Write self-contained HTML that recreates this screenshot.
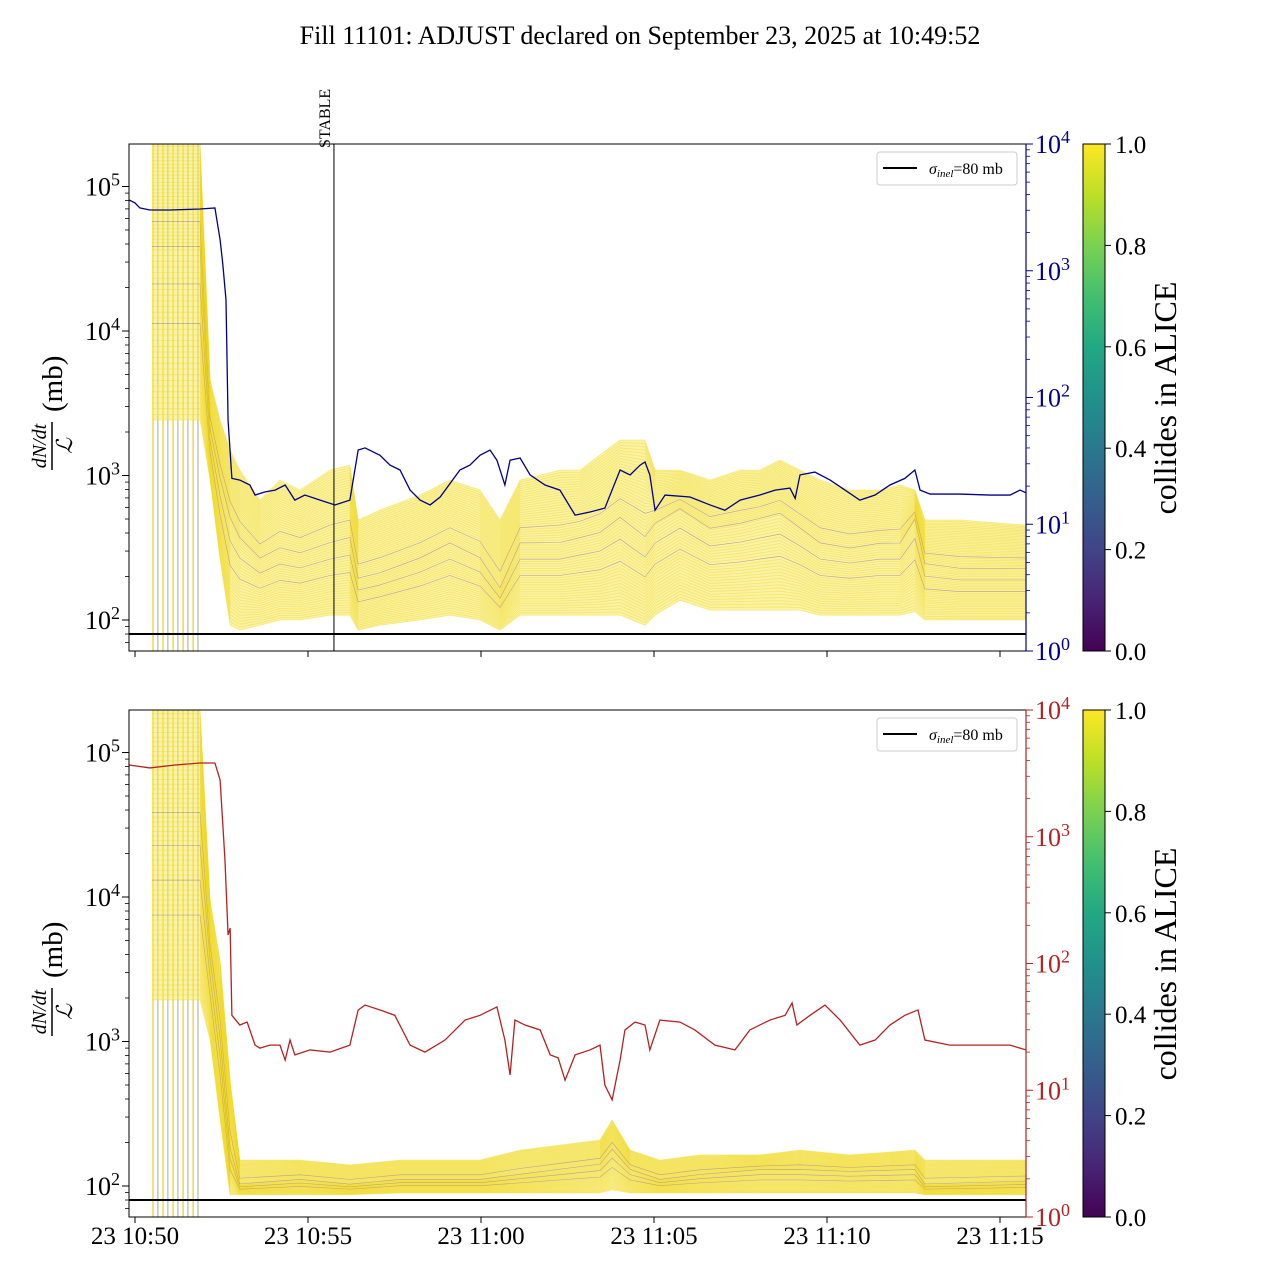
<!DOCTYPE html>
<html><head><meta charset="utf-8">
<style>
html,body{margin:0;padding:0;background:#fff;}
svg{display:block;font-family:"Liberation Serif","DejaVu Serif",serif;}
</style></head>
<body>
<svg id="chart" width="1280" height="1280" viewBox="0 0 1280 1280" xmlns="http://www.w3.org/2000/svg">
<defs>
<linearGradient id="viridis" x1="0" y1="1" x2="0" y2="0">
<stop offset="0" stop-color="#440154"/><stop offset="0.1" stop-color="#482475"/><stop offset="0.2" stop-color="#414487"/><stop offset="0.3" stop-color="#355f8d"/><stop offset="0.4" stop-color="#2a788e"/><stop offset="0.5" stop-color="#21918c"/><stop offset="0.6" stop-color="#22a884"/><stop offset="0.7" stop-color="#44bf70"/><stop offset="0.8" stop-color="#7ad151"/><stop offset="0.9" stop-color="#bddf26"/><stop offset="1" stop-color="#fde725"/>
</linearGradient>
<clipPath id="clipTop"><rect x="129" y="144" width="897" height="507"/></clipPath>
<clipPath id="clipBot"><rect x="129" y="710" width="897" height="507"/></clipPath>
</defs>
<text x="640" y="44" font-size="26" text-anchor="middle">Fill 11101: ADJUST declared on September 23, 2025 at 10:49:52</text>
<g id="layer"></g>
</svg>
<script>
// ---- data (time in minutes after 10:50:00) ----
const spikeTimes = [0.52,0.66,0.81,0.95,1.10,1.24,1.39,1.53,1.68,1.82];
const blueTimes = [-0.17,0,0.14,0.43,1.01,1.88,2.31,2.46,2.54,2.63,2.69,2.80,3.03,3.32,3.47,3.76,4.05,4.34,4.62,4.91,5.35,5.78,6.21,6.45,6.65,7.08,7.37,7.66,7.95,8.24,8.53,8.82,9.39,9.68,9.97,10.26,10.46,10.69,10.84,11.13,11.42,11.85,12.28,12.72,13.15,13.58,14.02,14.31,14.60,14.74,14.88,15.03,15.32,16.04,16.62,17.05,17.49,18.06,18.50,18.93,19.08,19.22,19.65,20.09,20.52,20.95,21.39,21.82,22.25,22.54,22.69,22.98,23.84,24.71,25.29,25.58,25.75];
const blueValues = [3615,3430,3130,3015,3015,3070,3130,1750,1110,588,66,23,22.3,20.4,17,18,18.6,20.4,15.5,17,15.5,14.2,15.5,38.5,40,35,29.3,26.8,18.6,15.5,14.2,16.4,26.8,29.3,35,38.5,32,20.4,32,33.3,24.5,20.4,18.6,11.8,12.5,13.4,26.8,24.5,29.3,31,24.5,12.9,17,16.4,14.2,12.9,15.5,17,18.6,19.3,16,24.5,25.8,22.3,18.6,15.5,17,20.4,23,26.8,18.6,17.3,17.3,17,17,18.6,17.7];
const redTimes = [-0.17,0.43,1.16,1.88,2.31,2.46,2.60,2.69,2.75,2.80,3.03,3.24,3.32,3.47,3.61,3.90,4.19,4.34,4.48,4.62,5.06,5.64,6.21,6.45,6.65,7.08,7.51,7.95,8.38,8.96,9.54,9.97,10.46,10.69,10.84,10.98,11.27,11.71,12.0,12.23,12.43,12.72,13.15,13.44,13.58,13.79,14.02,14.16,14.45,14.74,14.88,15.17,15.75,16.18,16.76,17.34,17.77,18.35,18.79,18.99,19.13,19.51,19.94,20.38,20.95,21.39,21.82,22.25,22.63,22.83,23.55,24.71,25.29,25.75];
const redValues = [3680,3490,3680,3820,3820,2800,656,168,190,39,32.7,34.5,29.9,22.7,21.5,22.7,22.7,17.3,24.9,19,20.8,20,22.7,43,47,43,39,22.7,20,24.9,35.8,39,45.4,24.9,13.2,35.8,32.7,29.9,19,18,12,19,20.8,22.7,11,8.4,17.3,29.9,34.5,32.7,20.8,35.8,34.5,29.9,22.7,20.8,29.9,35.8,39,48.8,32.7,39,47,35.8,22.7,24.9,32.7,39,43,24.9,22.7,22.7,22.7,20.8];
const topBandTimes = [0.49,1.88,2.17,2.46,2.75,3.03,3.61,4.19,4.77,5.64,6.21,6.45,7.08,8.24,9.10,9.97,10.55,11.13,12.28,12.86,13.44,14.02,14.74,15.03,15.75,16.62,17.49,18.06,18.64,19.22,19.80,20.66,21.53,22.11,22.54,22.83,23.84,25.75];
const topBandHigh = [2e5,2e5,4580,2420,1500,1090,677,930,794,1090,1180,492,577,733,930,794,492,930,1090,1090,1386,1760,1760,1090,1090,930,1090,1090,1280,1090,930,794,794,860,794,492,492,454];
const topBandMid = [36400,36400,2065,930,492,358,260,305,282,330,358,189,205,260,330,260,161,330,330,358,387,492,358,454,577,420,454,492,533,420,330,305,330,330,492,240,222,222];
const topBandLow = [2420,2420,930,260,92,85,92,100,100,108,108,85,92,100,108,100,85,108,108,108,108,108,92,108,137,117,117,117,117,117,108,108,108,108,114,100,100,100];
const botBandTimes = [0.49,1.88,2.17,2.46,2.75,3.03,4.77,6.21,7.66,9.97,11.13,12.28,13.44,13.79,14.31,15.17,16.33,18.06,19.22,20.66,22.54,22.83,25.75];
const botBandHigh = [2e5,2e5,9530,3660,541,151,151,140,151,151,177,192,208,286,177,151,164,164,177,164,177,151,151];
const botBandMid = [21100,21100,3660,1025,177,102,110,102,110,110,119,129,140,177,129,110,119,129,129,125,129,102,107];
const botBandLow = [1940,1940,1025,286,87,87,87,87,89.5,89.5,89.5,89.5,89.5,94,89.5,89.5,89.5,89.5,89.5,89.5,89.5,87,87];
const sigmaInel = 80;
const stableTime = 5.75;
const xTickMinutes = [0,5,10,15,20,25];
const xTickLabels = ["23 10:50","23 10:55","23 11:00","23 11:05","23 11:10","23 11:15"];
const leftTickExps = [2,3,4,5];
const rightTickExps = [0,1,2,3,4];
const cbarTicks = [0,0.2,0.4,0.6,0.8,1.0];

// ---- scales ----
const X0=129, X1=1026;
function xS(t){return 135 + t*34.6;}
function yL(v,off){return 620 + off - (Math.log10(v)-2)*144.5;}
function yR(v,off){return 651 + off - Math.log10(v)*126.75;}

const NS="http://www.w3.org/2000/svg";
const layer=document.getElementById('layer');
function mk(tag,attrs,parent){const e=document.createElementNS(NS,tag);for(const k in attrs)e.setAttribute(k,attrs[k]);(parent||layer).appendChild(e);return e;}

function panel(off, name, bandT, bandH, bandM, bandL, lineT, lineV, lineColor, clipId){
  const g=mk('g',{});
  
  
  const top=144+off, bot=651+off;
  const plot=mk('g',{'clip-path':'url(#'+clipId+')'},g);
  spikeTimes.forEach((t,i)=>{
    const l=mk('line',{x1:xS(t),x2:xS(t),y1:top,y2:bot,stroke:i%2?'#b8b8a0':'#e8d020','stroke-width':1.2},plot);
    
    
  });
  let d='';
  bandT.forEach((t,i)=>{d+=(i?'L':'M')+xS(t)+','+yL(bandH[i],off);});
  for(let i=bandT.length-1;i>=0;i--) d+='L'+xS(bandT[i])+','+yL(bandL[i],off);
  const band=mk('path',{d:d+'Z',fill:'#f6e85a','fill-opacity':0.55},plot);
  
  
  // inner core band (between quartile-like blends)
  const N=60;
  for(let k=0;k<=N;k++){
    const f=k/N;
    let p='';
    bandT.forEach((t,i)=>{
      const lo=Math.log10(bandL[i]),mi=Math.log10(bandM[i]),hi=Math.log10(bandH[i]);
      const lv = f<0.5 ? lo+(mi-lo)*(f/0.5) : mi+(hi-mi)*((f-0.5)/0.5);
      p+=(i?'L':'M')+xS(t)+','+yL(Math.pow(10,lv),off);
    });
    const dark = (k%7===3) && f>0.25 && f<0.75;
    const l=mk('path',{d:p,fill:'none',stroke:dark?'#6a3a5a':'#efd820','stroke-width':dark?0.7:0.8,'stroke-opacity':dark?0.4:0.45},plot);
    
    
  }
  const sl=mk('line',{x1:X0,x2:X1,y1:yL(sigmaInel,off),y2:yL(sigmaInel,off),stroke:'#000','stroke-width':2},g);
  
  
  let lp='';
  lineT.forEach((t,i)=>{lp+=(i?'L':'M')+xS(t)+','+yR(lineV[i],off);});
  const ln=mk('path',{d:lp,fill:'none',stroke:lineColor,'stroke-width':1.3},plot);
  
  
  mk('rect',{x:X0,y:top,width:X1-X0,height:507,fill:'none',stroke:'#000','stroke-width':1},g);
  mk('line',{x1:X1,x2:X1,y1:top,y2:bot,stroke:lineColor,'stroke-width':1.2},g);
  for(let e=1;e<=5;e++){
    for(let m=1;m<10;m++){
      const v=m*Math.pow(10,e); const y=yL(v,off);
      if(y<top||y>bot) continue;
      mk('line',{x1:X0-(m===1?7:4),x2:X0,y1:y,y2:y,stroke:'#000','stroke-width':m===1?1:0.8},g);
    }
  }
  leftTickExps.forEach(e=>{
    const y=yL(Math.pow(10,e),off);
    const t=mk('text',{x:120,y:y+9,'font-size':26,'text-anchor':'end'},g);
    
    
    t.innerHTML='10<tspan dy="-10" font-size="18">'+e+'</tspan>';
  });
  for(let e=0;e<4;e++){
    for(let m=1;m<10;m++){
      const y=yR(m*Math.pow(10,e),off);
      mk('line',{x1:X1,x2:X1+(m===1?7:4),y1:y,y2:y,stroke:lineColor,'stroke-width':m===1?1:0.8},g);
    }
  }
  mk('line',{x1:X1,x2:X1+7,y1:top,y2:top,stroke:lineColor},g);
  rightTickExps.forEach(e=>{
    const y=yR(Math.pow(10,e),off);
    const t=mk('text',{x:1035,y:y+9,'font-size':26,fill:lineColor},g);
    
    
    t.innerHTML='10<tspan dy="-10" font-size="18">'+e+'</tspan>';
  });
  xTickMinutes.forEach((m,i)=>{
    const x=xS(m);
    mk('line',{x1:x,x2:x,y1:bot,y2:bot+6,stroke:'#000'},g);
    if(off>0){
      const t=mk('text',{x:x,y:bot+27,'font-size':25,'text-anchor':'middle'},g);
      
      
      t.textContent=xTickLabels[i];
    }
  });
  const yl=mk('g',{transform:'translate(52,'+(400+off)+') rotate(-90)'},g);
  
  
  const nu=mk('text',{x:-46,y:-6,'font-size':20,'font-style':'italic','text-anchor':'middle'},yl); nu.textContent='dN/dt';
  mk('line',{x1:-70,x2:-22,y1:0,y2:0,stroke:'#000','stroke-width':1.5},yl);
  const de=mk('text',{x:-46,y:20,'font-size':22,'font-style':'italic','text-anchor':'middle'},yl); de.textContent='ℒ';
  const mb=mk('text',{x:-12,y:10,'font-size':29},yl); mb.textContent='(mb)';
  const lg=mk('g',{},g);
  
  
  mk('rect',{x:877,y:152+off,width:140,height:33,rx:3,fill:'#fff',stroke:'#ccc'},lg);
  mk('line',{x1:883,x2:917,y1:168+off,y2:168+off,stroke:'#000','stroke-width':2},lg);
  const lt=mk('text',{x:929,y:174+off,'font-size':16},lg);
  lt.innerHTML='<tspan font-style="italic">σ</tspan><tspan font-style="italic" font-size="11" dy="3">inel</tspan><tspan dy="-3">=80 mb</tspan>';
  const cb=mk('g',{},g);
  
  
  mk('rect',{x:1083,y:top,width:22,height:507,fill:'url(#viridis)',stroke:'#000','stroke-width':1},cb);
  cbarTicks.forEach(v=>{
    const y=bot-v*507;
    mk('line',{x1:1105,x2:1111,y1:y,y2:y,stroke:'#000'},cb);
    const t=mk('text',{x:1115,y:y+9,'font-size':25},cb);
    
    
    t.textContent=v.toFixed(1);
  });
  const ct=mk('text',{x:0,y:0,'font-size':32,'text-anchor':'middle',transform:'translate(1176,'+(398+off)+') rotate(-90)'},cb);
  
  
  ct.textContent='collides in ALICE';
  return g;
}
panel(0,'top',topBandTimes,topBandHigh,topBandMid,topBandLow,blueTimes,blueValues,'#00008b','clipTop');
panel(566,'bottom',botBandTimes,botBandHigh,botBandMid,botBandLow,redTimes,redValues,'#b22222','clipBot');
const sx=xS(stableTime);
const st=mk('line',{x1:sx,x2:sx,y1:144,y2:651,stroke:'#000','stroke-width':1});


const stt=mk('text',{x:0,y:0,'font-size':16,transform:'translate('+(sx-4)+',148) rotate(-90)'});


stt.textContent='STABLE';
</script>
</body></html>
